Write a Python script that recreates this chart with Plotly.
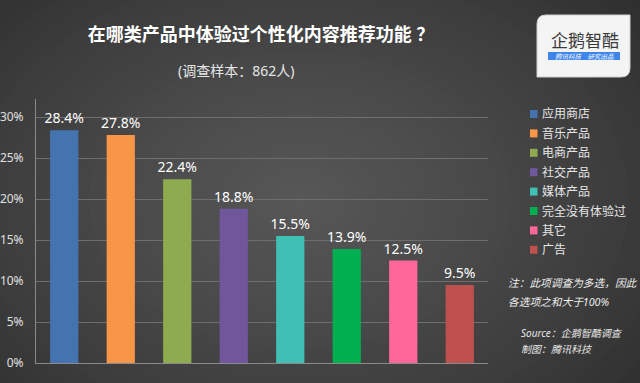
import plotly.graph_objects as go

categories = ["应用商店", "音乐产品", "电商产品", "社交产品", "媒体产品", "完全没有体验过", "其它", "广告"]
values = [28.4, 27.8, 22.4, 18.8, 15.5, 13.9, 12.5, 9.5]
colors = ["#4474b0", "#f79646", "#8eab4f", "#70579b", "#40bfb4", "#00b050", "#ff6699", "#c0504d"]
tick_vals = [0, 5, 10, 15, 20, 25, 30]
tick_text = ["0%", "5%", "10%", "15%", "20%", "25%", "30%"]
note_lines = ["注：此项调查为多选，因此", "各选项之和大于100%"]
source_lines = ["Source：企鹅智酷调查", "制图：腾讯科技"]

W, H = 640, 383
L, R, T, B = 36, 488, 99, 363
FONT = "Noto Sans, Noto Sans CJK SC, sans-serif"


def px(x):
    return (x - L) / (R - L)


def py(y):
    return (B - y) / (B - T)


fig = go.Figure()
for c, v, col in zip(categories, values, colors):
    fig.add_trace(go.Bar(
        x=[c], y=[v], name=c, marker=dict(color=col, line=dict(width=0)),
        text=[f"{v:.1f}%"], textposition="outside", cliponaxis=False, constraintext="none",
        textfont=dict(color="#ffffff", size=14, family=FONT),
        width=0.5, showlegend=False, hoverinfo="skip",
    ))

shapes = []
# radial-like background gradient
N = 40
c0 = (0x2a, 0x2a, 0x2a)
c1 = (0x58, 0x58, 0x58)
cx, cy = 300, 200
for i in range(N):
    k = 1 - i / N
    rx, ry = 470 * k, 330 * k
    t = (1 - k) ** 0.8
    col = tuple(int(round(c0[j] + (c1[j] - c0[j]) * t)) for j in range(3))
    shapes.append(dict(type="circle", xref="paper", yref="paper", layer="below",
                       x0=px(cx - rx), x1=px(cx + rx), y0=py(cy + ry), y1=py(cy - ry),
                       fillcolor="rgb(%d,%d,%d)" % col, line=dict(width=0)))

annotations = []
# legend (manual)
for i, (c, col) in enumerate(zip(categories, colors)):
    yy = 114 + i * 19.4
    shapes.append(dict(type="rect", xref="paper", yref="paper",
                       x0=px(530), x1=px(537.5), y0=py(yy + 4), y1=py(yy - 4),
                       fillcolor=col, line=dict(width=0)))
    annotations.append(dict(text=c, xref="paper", yref="paper", x=px(540), y=py(yy),
                            xanchor="left", yanchor="middle", showarrow=False,
                            font=dict(color="#e6e6e6", size=12, family=FONT)))

# logo box
lx0, lx1, ly0, ly1 = 537, 630, 15, 77
r = 9
path = (f"M {px(lx0+r)},{py(ly0)} L {px(lx1)},{py(ly0)} L {px(lx1)},{py(ly1-r)} "
        f"Q {px(lx1)},{py(ly1)} {px(lx1-r)},{py(ly1)} L {px(lx0)},{py(ly1)} L {px(lx0)},{py(ly0+r)} "
        f"Q {px(lx0)},{py(ly0)} {px(lx0+r)},{py(ly0)} Z")
shapes.append(dict(type="path", xref="paper", yref="paper", path=path,
                   fillcolor="#f4f4f4", line=dict(color="#d0d0d0", width=1)))
shapes.append(dict(type="rect", xref="paper", yref="paper",
                   x0=px(548), x1=px(620), y0=py(60), y1=py(52),
                   fillcolor="#3d85e8", line=dict(width=0)))
annotations.append(dict(text="企鹅智酷", xref="paper", yref="paper", x=px(585), y=py(40),
                        xanchor="center", yanchor="middle", showarrow=False,
                        font=dict(color="#3a3a3a", size=17, family=FONT)))
annotations.append(dict(text="<i>腾讯科技　研究出品</i>", xref="paper", yref="paper", x=px(584), y=py(56.5),
                        xanchor="center", yanchor="middle", showarrow=False,
                        font=dict(color="#ffffff", size=6.5, family=FONT)))

# subtitle
annotations.append(dict(text="(调查样本：862人)", xref="paper", yref="paper", x=px(236), y=py(70),
                        xanchor="center", yanchor="middle", showarrow=False,
                        font=dict(color="#e6e6e6", size=14, family=FONT)))
# notes
for txt, yy in zip(note_lines, [283, 302]):
    annotations.append(dict(text=f"<i>{txt}</i>", xref="paper", yref="paper",
                            x=px(506), y=py(yy), xanchor="left", yanchor="middle", showarrow=False,
                            font=dict(color="#eeeeee", size=10.7, family=FONT)))
for txt, yy in zip(source_lines, [333, 349]):
    annotations.append(dict(text=f"<i>{txt}</i>", xref="paper", yref="paper",
                            x=px(519), y=py(yy), xanchor="left", yanchor="middle", showarrow=False,
                            font=dict(color="#e6e6e6", size=10, family=FONT)))

fig.update_layout(
    width=W, height=H,
    margin=dict(l=L, r=W - R, t=T, b=H - B, pad=0, autoexpand=False),
    paper_bgcolor="#2c2c2c", plot_bgcolor="rgba(0,0,0,0)",
    barmode="overlay", hovermode=False,
    title=dict(text="<b>在哪类产品中体验过个性化内容推荐功能 ？</b>", xref="container", yref="container",
               x=261 / W, y=1 - 35 / H, xanchor="center", yanchor="middle",
               font=dict(color="#ffffff", size=18, family=FONT)),
    xaxis=dict(showticklabels=False, showgrid=False, zeroline=False, showline=True, automargin=False,
               linecolor="#8a8a8a", linewidth=1, ticks="", fixedrange=True),
    yaxis=dict(range=[0, 32.2], tickvals=tick_vals, ticktext=tick_text, showgrid=True, automargin=False,
               gridcolor="#6e6e6e", gridwidth=1, zeroline=False, showline=True, fixedrange=True,
               linecolor="#8a8a8a", linewidth=1, ticks="", ticklabelstandoff=9,
               tickfont=dict(color="#e0e0e0", size=12, family=FONT)),
    shapes=shapes, annotations=annotations, showlegend=False,
)

fig.write_html("out.html", config={"displayModeBar": False},
               post_script="document.body.style.margin='0';document.body.style.overflow='hidden';")
